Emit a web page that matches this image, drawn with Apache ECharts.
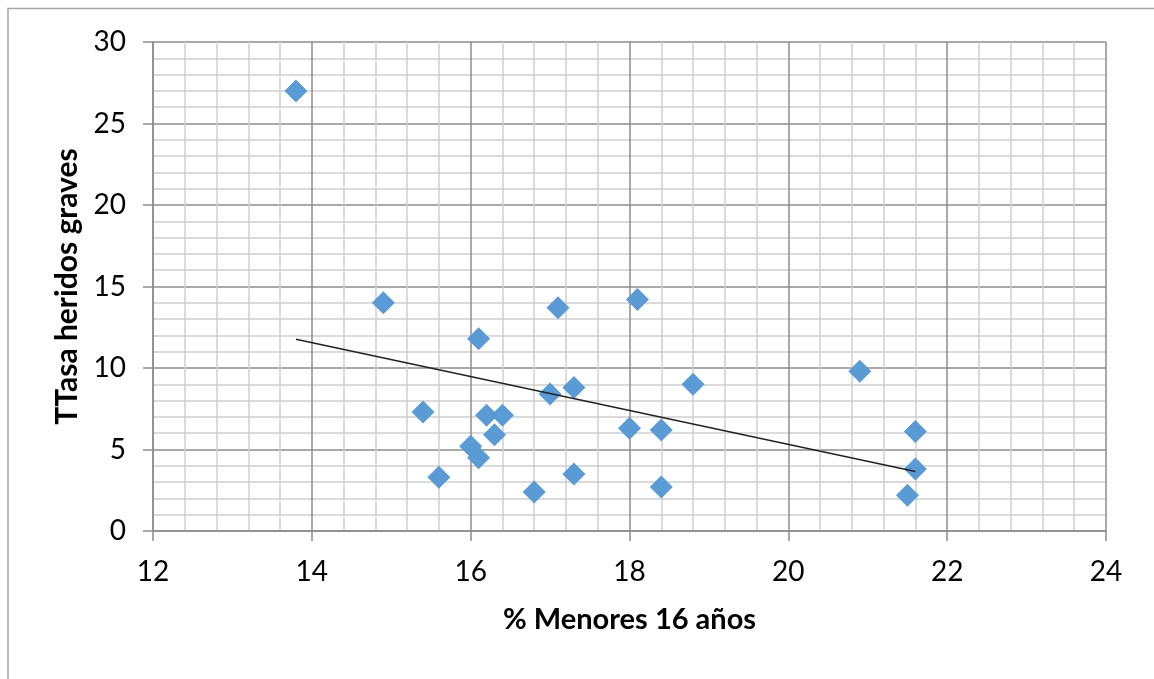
<!DOCTYPE html>
<html>
<head>
<meta charset="utf-8">
<script src="https://cdn.jsdelivr.net/npm/echarts@6/dist/echarts.min.js"></script>
<style>
html,body{margin:0;padding:0;background:#fff;}
#chart{width:1154px;height:679px;}
</style>
</head>
<body>
<div id="chart"></div>
<script>
const xValues = [13.8,14.9,15.4,15.6,16.0,16.1,16.1,16.2,16.3,16.4,16.8,17.0,17.1,17.3,17.3,18.0,18.1,18.4,18.4,18.8,20.9,21.5,21.6,21.6];
const yValues = [27,14,7.3,3.3,5.2,4.5,11.8,7.1,5.9,7.1,2.4,8.4,13.7,8.8,3.5,6.3,14.2,6.2,2.7,9.0,9.8,2.2,6.1,3.8];
const xAxisName = '% Menores 16 años';
const yAxisName = 'TTasa heridos graves';

const points = xValues.map((x, i) => [x, yValues[i]]);
// linear regression trendline
const n = xValues.length;
const mx = xValues.reduce((a, b) => a + b, 0) / n;
const my = yValues.reduce((a, b) => a + b, 0) / n;
let sxy = 0, sxx = 0;
for (let i = 0; i < n; i++) { sxy += (xValues[i] - mx) * (yValues[i] - my); sxx += (xValues[i] - mx) ** 2; }
const slope = sxy / sxx, icpt = my - slope * mx;
const xMin = Math.min(...xValues), xMax = Math.max(...xValues);
const trend = [[xMin, icpt + slope * xMin], [xMax, icpt + slope * xMax]];

const font = 'Lato, "Open Sans", sans-serif';
const chart = echarts.init(document.getElementById('chart'));
chart.setOption({
  animation: false,
  backgroundColor: '#fff',
  graphic: [{
    type: 'rect', left: 5.5, top: 6, shape: { x: 0, y: 0, width: 1200, height: 672 },
    style: { fill: 'none', stroke: '#a6a6a6', lineWidth: 1.5 }, silent: true, z: -1
  }],
  grid: { left: 153, right: 48, top: 42, bottom: 148 },
  xAxis: {
    type: 'value', min: 12, max: 24, interval: 2,
    name: xAxisName, nameLocation: 'middle', nameGap: 74,
    nameTextStyle: { fontFamily: font, fontWeight: 'bold', fontSize: 29, color: '#000' },
    axisLine: { show: true, lineStyle: { color: '#8c8c8c', width: 1.5 } },
    axisTick: { show: true, length: 10, lineStyle: { color: '#8c8c8c', width: 1.5 } },
    axisLabel: { fontFamily: font, fontSize: 28, color: '#000', margin: 27 },
    splitLine: { show: true, lineStyle: { color: '#8c8c8c', width: 1.5 } },
    minorTick: { show: false, splitNumber: 5 },
    minorSplitLine: { show: true, lineStyle: { color: '#cfcfcf', width: 1.5 } }
  },
  yAxis: {
    type: 'value', min: 0, max: 30, interval: 5,
    name: yAxisName, nameLocation: 'middle', nameGap: 71, nameRotate: 90,
    nameTextStyle: { fontFamily: font, fontWeight: 'bold', fontSize: 30, color: '#000' },
    axisLine: { show: true, lineStyle: { color: '#8c8c8c', width: 1.5 } },
    axisTick: { show: true, length: 10, lineStyle: { color: '#8c8c8c', width: 1.5 } },
    axisLabel: { fontFamily: font, fontSize: 28, color: '#000', margin: 27 },
    splitLine: { show: true, lineStyle: { color: '#8c8c8c', width: 1.5 } },
    minorTick: { show: false, splitNumber: 5 },
    minorSplitLine: { show: true, lineStyle: { color: '#cfcfcf', width: 1.5 } }
  },
  series: [
    {
      type: 'scatter', data: points, symbol: 'diamond', symbolSize: 23,
      itemStyle: { color: '#5b9bd5', opacity: 1 }, z: 3
    },
    {
      type: 'line', data: trend, symbol: 'none', showSymbol: false,
      lineStyle: { color: '#222', width: 1.5 }, z: 4
    }
  ]
});
</script>
</body>
</html>
